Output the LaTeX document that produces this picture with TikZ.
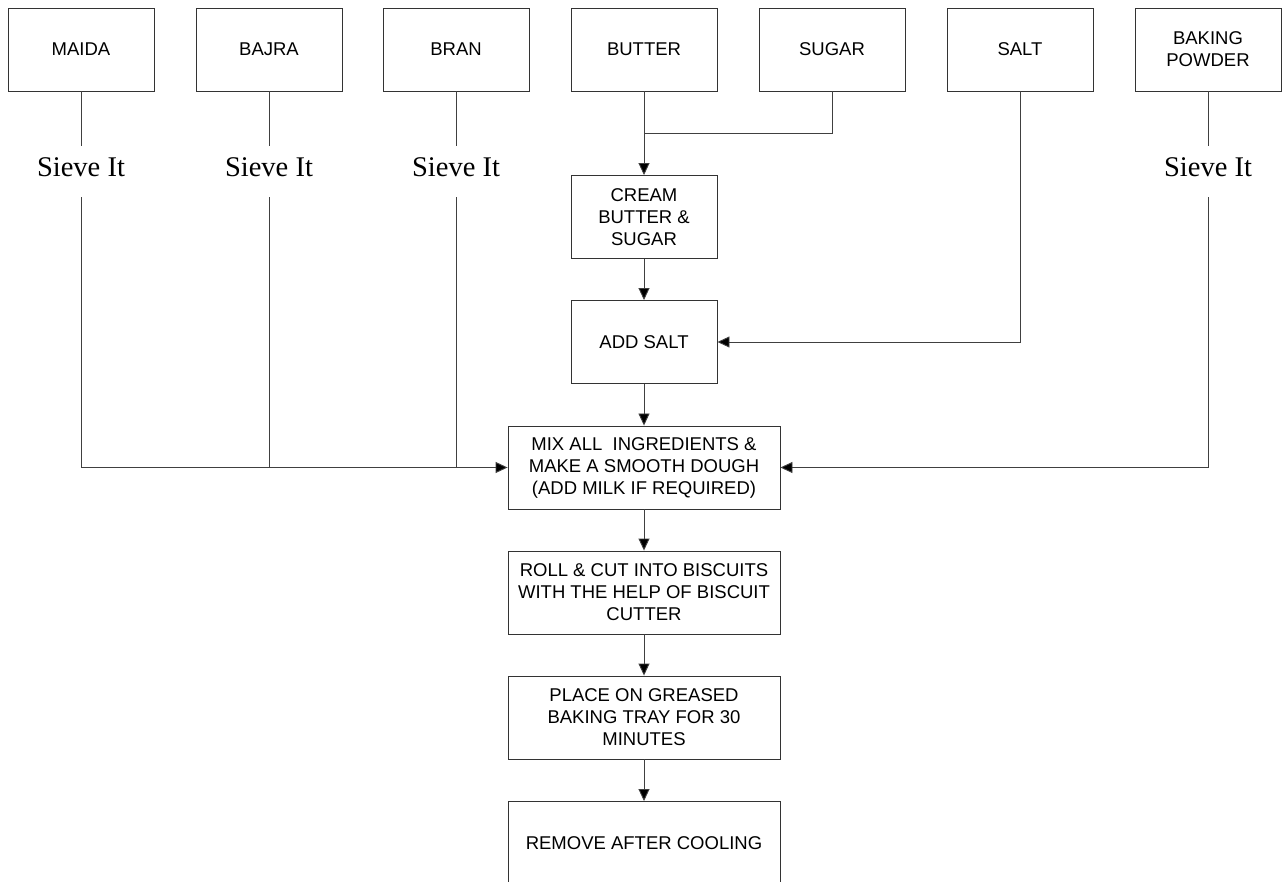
\documentclass[tikz,border=0pt]{standalone}
\usepackage{fontspec}
\setmainfont{Liberation Sans}
\newfontfamily\sievefont{Liberation Serif}
\usetikzlibrary{arrows.meta,calc}
\tikzset{
  box/.style={draw=black!80, line width=0.9pt, rectangle, minimum width=146pt, minimum height=83pt,
    inner sep=2pt, align=center, font=\fontsize{18.5}{22}\selectfont},
  widebox/.style={box, minimum width=272pt},
  sieve/.style={inner sep=0pt, minimum height=51pt, text height=18pt, text depth=7pt,
    font=\sievefont\fontsize{28.5}{30}\selectfont},
  conn/.style={draw=black!75, line width=0.9pt},
  arr/.style={conn, -{Triangle[length=12pt,width=11pt,fill=black]}}
}
\begin{document}
\begin{tikzpicture}[x=1pt,y=-1pt]
\useasboundingbox[fill=white] (0,0) rectangle (1283,882);
% top ingredient boxes
\node[box] (maida)  at (81,49.5)   {MAIDA};
\node[box] (bajra)  at (269,49.5)  {BAJRA};
\node[box] (bran)   at (456,49.5)  {BRAN};
\node[box] (butter) at (644,49.5)  {BUTTER};
\node[box] (sugar)  at (832,49.5)  {SUGAR};
\node[box] (salt)   at (1020,49.5) {SALT};
\node[box] (bp)     at (1208,49.5) {BAKING\\POWDER};
% sieve labels
\node[sieve] (s1) at (81,171.5)   {Sieve It};
\node[sieve] (s2) at (269,171.5)  {Sieve It};
\node[sieve] (s3) at (456,171.5)  {Sieve It};
\node[sieve] (s4) at (1208,171.5) {Sieve It};
% process boxes
\node[box] (cream)   at (644,217) {CREAM\\BUTTER \&\\SUGAR};
\node[box] (addsalt) at (644,342) {ADD SALT};
\node[widebox] (mix)    at (644,467.5) {MIX ALL~ INGREDIENTS \&\\MAKE A SMOOTH DOUGH\\(ADD MILK IF REQUIRED)};
\node[widebox] (roll)   at (644,592.5) {ROLL \& CUT INTO BISCUITS\\WITH THE HELP OF BISCUIT\\CUTTER};
\node[widebox] (place)  at (644,717.5) {PLACE ON GREASED\\BAKING TRAY FOR 30\\MINUTES};
\node[widebox] (remove) at (644,843)   {REMOVE AFTER COOLING};
% connectors top
\draw[conn] (maida.south) -- (s1.north);
\draw[conn] (bajra.south) -- (s2.north);
\draw[conn] (bran.south) -- (s3.north);
\draw[conn] (bp.south) -- (s4.north);
\coordinate (bsj) at ($(butter.south)!0.5!(cream.north)$);
\draw[arr] (butter.south) -- (cream.north);
\draw[conn] (sugar.south) |- (bsj);
\draw[arr] (cream.south) -- (addsalt.north);
\draw[arr] (salt.south) |- (addsalt.east);
\draw[arr] (addsalt.south) -- (mix.north);
% sieved flours into mix
\draw[arr] (s1.south) |- (mix.west);
\draw[conn] (s2.south) -- (s2.south |- mix.west);
\draw[conn] (s3.south) -- (s3.south |- mix.west);
\draw[arr] (s4.south) |- (mix.east);
% process chain
\draw[arr] (mix.south) -- (roll.north);
\draw[arr] (roll.south) -- (place.north);
\draw[arr] (place.south) -- (remove.north);
\end{tikzpicture}
\end{document}
